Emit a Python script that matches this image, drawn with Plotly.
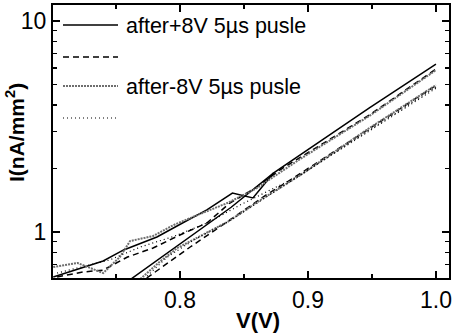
import plotly.graph_objects as go

# ---------------- data ----------------
VA_solid = [0.701, 0.722, 0.740, 0.756, 0.782, 0.802, 0.821, 0.841, 0.857, 0.873, 0.894, 0.948, 1.000]
IA_solid = [0.612, 0.675, 0.729, 0.822, 0.947, 1.103, 1.272, 1.53, 1.45, 1.90, 2.32, 3.87, 6.25]

VB_solid = [0.762, 0.800, 0.840, 0.873]
IB_solid = [0.600, 0.880, 1.310, 1.900]

VA_dash = [0.704, 0.724, 0.740, 0.759, 0.779, 0.800, 0.821, 0.839, 0.859, 0.878, 0.948, 1.000]
IA_dash = [0.612, 0.646, 0.660, 0.761, 0.840, 0.968, 1.103, 1.372, 1.617, 1.967, 3.585, 5.92]

VB_dash = [0.774, 0.808, 0.839, 0.866, 0.886, 0.948, 1.000]
IB_dash = [0.605, 0.849, 1.140, 1.480, 1.760, 3.100, 4.95]

VA_gray = [0.701, 0.720, 0.728, 0.740, 0.753, 0.761, 0.779, 0.795, 0.810, 0.821, 0.837, 0.859, 0.894, 0.948, 1.000]
IA_gray = [0.682, 0.713, 0.682, 0.639, 0.761, 0.906, 0.957, 1.079, 1.178, 1.257, 1.372, 1.600, 2.220, 3.550, 5.85]

VB_gray = [0.769, 0.784, 0.798, 0.816, 0.837, 0.863, 0.894, 0.948, 1.000]
IB_gray = [0.599, 0.721, 0.840, 0.957, 1.115, 1.418, 1.860, 3.110, 4.97]

VA_dot = [0.704, 0.745, 0.769, 0.796, 0.823, 0.847, 0.894, 0.948, 1.000]
IA_dot = [0.639, 0.737, 0.849, 0.957, 1.115, 1.343, 1.860, 3.040, 4.87]

VB_dot = [0.772, 0.790, 0.810, 0.840, 0.870, 0.920, 1.000]
IB_dot = [0.600, 0.760, 0.910, 1.140, 1.500, 2.350, 4.80]

legend_labels = ["after+8V 5\u00b5s pusle", "", "after-8V 5\u00b5s pusle", ""]
x_title = "V(V)"
y_title = "I(nA/mm<sup>2</sup>)"
x_ticks = [0.8, 0.9, 1.0]
x_ticktext = ["0.8", "0.9", "1.0"]
y_ticks = [1, 10]
y_ticktext = ["1", "10"]

# ---------------- styles ----------------
FONT = "Liberation Sans, Arial, Helvetica, sans-serif"
styles = [
    dict(color="black", width=1.5, dash="solid"),
    dict(color="black", width=1.5, dash="6px,4px"),
    dict(color="#6e6e6e", width=2, dash="2px,1px"),
    dict(color="black", width=1.2, dash="1px,3px"),
]

fig = go.Figure()
series = [
    (VA_solid, IA_solid, 0), (VB_solid, IB_solid, 0),
    (VA_dash, IA_dash, 1), (VB_dash, IB_dash, 1),
    (VA_gray, IA_gray, 2), (VB_gray, IB_gray, 2),
    (VA_dot, IA_dot, 3), (VB_dot, IB_dot, 3),
]
for v, i, s in series:
    fig.add_trace(go.Scatter(x=v, y=i, mode="lines", line=styles[s],
                             showlegend=False, hoverinfo="skip"))

# ---------------- hand-made legend (long sample lines as in the original) ----------------
W, H = 453, 335
L, R, T, B = 53, 4, 5, 57
pw, ph = W - L - R, H - T - B
def px(x):
    return (x - L) / pw
def py(y):
    return (H - B - y) / ph

leg_y = [25, 57, 86, 118]
shapes = []
annotations = []
for k, yy in enumerate(leg_y):
    st = styles[k]
    shapes.append(dict(type="line", xref="paper", yref="paper",
                       x0=px(63), x1=px(118), y0=py(yy), y1=py(yy),
                       line=dict(color=st["color"], width=st["width"], dash=st["dash"])))
    if legend_labels[k]:
        annotations.append(dict(xref="paper", yref="paper", x=px(124), y=py(yy + 1),
                                xanchor="left", yanchor="middle", showarrow=False,
                                text=legend_labels[k],
                                font=dict(family=FONT, size=21.5, color="black")))

# axis titles
annotations.append(dict(xref="paper", yref="paper", x=px(258), y=py(320),
                        xanchor="center", yanchor="middle", showarrow=False,
                        text="<b>%s</b>" % x_title,
                        font=dict(family=FONT, size=22, color="black")))
annotations.append(dict(xref="paper", yref="paper", x=px(15), y=py(133),
                        xanchor="center", yanchor="middle", showarrow=False,
                        textangle=-90, text="<b>%s</b>" % y_title,
                        font=dict(family=FONT, size=21, color="black")))

fig.update_layout(
    width=W, height=H,
    margin=dict(l=L, r=R, t=T, b=B),
    paper_bgcolor="white", plot_bgcolor="white",
    showlegend=False,
    shapes=shapes, annotations=annotations,
    font=dict(family=FONT, size=20, color="black"),
)
fig.update_xaxes(
    range=[0.7008, 1.0102],
    tickvals=x_ticks, ticktext=x_ticktext,
    ticks="inside", ticklen=7, tickwidth=1.5, tickcolor="black",
    minor=dict(ticks="inside", ticklen=4, tickwidth=1.5, tick0=0.75, dtick=0.1, tickcolor="black"),
    showline=True, linewidth=2, linecolor="black", mirror="allticks",
    showgrid=False, zeroline=False, automargin=False,
    tickfont=dict(family=FONT, size=23),
)
fig.update_yaxes(
    type="log", range=[-0.218, 1.0758],
    tickvals=y_ticks, ticktext=y_ticktext,
    ticks="inside", ticklen=7, tickwidth=1.5, tickcolor="black",
    minor=dict(ticks="inside", ticklen=4, tickwidth=1.5, tickcolor="black", dtick="D1"),
    showline=True, linewidth=2, linecolor="black", mirror="allticks",
    showgrid=False, zeroline=False, automargin=False,
    tickfont=dict(family=FONT, size=23),
)

fig.write_html("out.html",
               config={"displayModeBar": False, "staticPlot": True},
               post_script="document.body.style.margin='0';document.body.style.overflow='hidden';")
